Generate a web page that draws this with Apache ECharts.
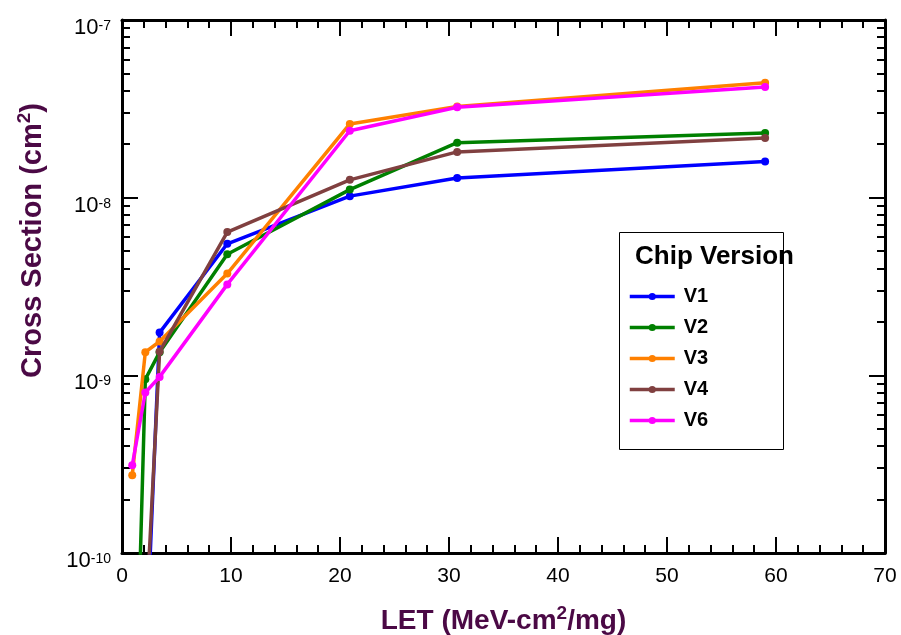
<!DOCTYPE html>
<html>
<head>
<meta charset="utf-8">
<script src="https://cdn.jsdelivr.net/npm/echarts@6/dist/echarts.min.js"></script>
<style>
html,body{margin:0;padding:0;background:#fff;}
#chart{width:901px;height:635px;}
</style>
</head>
<body>
<div id="chart"></div>
<script>
// LET values (MeV-cm2/mg)
const LET = [0.94, 2.14, 3.45, 9.66, 20.9, 30.75, 59.0];
// Cross sections (cm2); points below 1e-10 are off-scale (clipped)
const V1 = [null, 2.2e-11, 1.74e-9, 5.5e-9, 1.02e-8, 1.29e-8, 1.6e-8];
const V2 = [2.3e-12, 9.5e-10, 1.35e-9, 4.8e-9, 1.11e-8, 2.04e-8, 2.31e-8];
const V3 = [2.74e-10, 1.35e-9, 1.55e-9, 3.74e-9, 2.6e-8, 3.26e-8, 4.43e-8];
const V4 = [null, 3.6e-11, 1.36e-9, 6.4e-9, 1.26e-8, 1.81e-8, 2.17e-8];
const V6 = [3.12e-10, 8.0e-10, 0.98e-9, 3.25e-9, 2.38e-8, 3.23e-8, 4.2e-8];
const seriesNames = ['V1', 'V2', 'V3', 'V4', 'V6'];
const seriesValues = [V1, V2, V3, V4, V6];
const colors = ['#0000FF', '#008000', '#FF8000', '#804040', '#FF00FF'];
const xTicks = [0, 10, 20, 30, 40, 50, 60, 70];
const yDecades = [-10, -9, -8, -7];

// minor log tick positions (exponent space)
const minorLog = [];
for (let d = -10; d < -7; d++) {
  for (let k = 2; k <= 9; k++) minorLog.push(d + Math.log10(k));
}

const FONT = 'Liberation Sans, Arial, sans-serif';
const titleColor = '#4B0945';
const axisLine = { show: true, lineStyle: { color: '#000', width: 3 } };

function pairs(vals) {
  return vals.map((v, i) => [LET[i], v]);
}

const chart = echarts.init(document.getElementById('chart'));
const option = {
  backgroundColor: '#fff',
  animation: false,
  grid: { left: 122, right: 16, top: 20, bottom: 82, containLabel: false, outerBoundsMode: 'none' },
  xAxis: [
    {
      type: 'value', min: xTicks[0], max: xTicks[xTicks.length - 1], interval: 10,
      position: 'bottom',
      axisLine: axisLine,
      axisTick: { show: true, inside: true, length: 16, lineStyle: { color: '#000', width: 2 } },
      minorTick: { show: true, splitNumber: 5, length: 8, lineStyle: { color: '#000', width: 2 } },
      splitLine: { show: false },
      axisLabel: { fontSize: 21, color: '#000', margin: 13, fontFamily: FONT },
      name: '{t|LET (MeV-cm}{s|2}{t|/mg)}',
      nameLocation: 'middle',
      nameGap: 51,
      nameTextStyle: {
        rich: {
          t: { fontSize: 28, fontWeight: 'bold', color: titleColor, fontFamily: FONT },
          s: { fontSize: 19, fontWeight: 'bold', color: titleColor, fontFamily: FONT, padding: [0, 0, 16, 0] }
        }
      }
    },
    {
      type: 'value', min: xTicks[0], max: xTicks[xTicks.length - 1], interval: 10,
      position: 'top',
      axisLine: axisLine,
      axisTick: { show: true, inside: true, length: 16, lineStyle: { color: '#000', width: 2 } },
      minorTick: { show: true, splitNumber: 5, length: 8, lineStyle: { color: '#000', width: 2 } },
      splitLine: { show: false },
      axisLabel: { show: false }
    }
  ],
  yAxis: [
    {
      type: 'log', logBase: 10, min: Math.pow(10, yDecades[0]), max: Math.pow(10, yDecades[yDecades.length - 1]),
      position: 'left',
      axisLine: axisLine,
      axisTick: { show: true, inside: true, length: 16, lineStyle: { color: '#000', width: 2 } },
      splitLine: { show: false },
      minorTick: { show: false },
      axisLabel: {
        margin: 11,
        verticalAlign: 'top',
        formatter: function (v) {
          const e = Math.round(Math.log10(v));
          return '{b|10}{s|' + e + '}';
        },
        rich: {
          b: { fontSize: 22, color: '#000', fontFamily: FONT, verticalAlign: 'top', padding: [-3, 0, 0, 0] },
          s: { fontSize: 14, color: '#000', fontFamily: FONT, verticalAlign: 'top', padding: [-1, 0, 0, 0] }
        }
      },
      name: '{t|Cross Section (cm}{s|2}{t|)}',
      nameLocation: 'middle',
      nameGap: 72,
      nameRotate: 90,
      nameTextStyle: {
        padding: [0, 0, 0, 92],
        rich: {
          t: { fontSize: 29, fontWeight: 'bold', color: titleColor, fontFamily: FONT },
          s: { fontSize: 19, fontWeight: 'bold', color: titleColor, fontFamily: FONT, padding: [0, 0, 16, 0] }
        }
      }
    },
    {
      type: 'value', min: yDecades[0], max: yDecades[yDecades.length - 1],
      position: 'left',
      axisLine: { show: false },
      axisTick: { show: true, inside: true, length: 8, customValues: minorLog, lineStyle: { color: '#000', width: 2 } },
      splitLine: { show: false },
      axisLabel: { show: false }
    },
    {
      type: 'value', min: yDecades[0], max: yDecades[yDecades.length - 1], interval: 1,
      position: 'right',
      axisLine: axisLine,
      axisTick: { show: true, inside: true, length: 16, lineStyle: { color: '#000', width: 2 } },
      splitLine: { show: false },
      axisLabel: { show: false }
    },
    {
      type: 'value', min: yDecades[0], max: yDecades[yDecades.length - 1],
      position: 'right',
      axisLine: { show: false },
      axisTick: { show: true, inside: true, length: 8, customValues: minorLog, lineStyle: { color: '#000', width: 2 } },
      splitLine: { show: false },
      axisLabel: { show: false }
    }
  ],
  legend: {
    orient: 'vertical',
    left: 628,
    top: 281,
    padding: 0,
    z: 20,
    itemWidth: 45,
    itemHeight: 9,
    itemGap: 0,
    data: seriesNames,
    lineStyle: { width: 3.5 },
    textStyle: {
      fontSize: 20, fontWeight: 'bold', color: '#000', lineHeight: 31,
      fontFamily: FONT, padding: [0, 0, 0, 4]
    }
  },
  graphic: [
    {
      type: 'rect', left: 619, top: 232, z: 0,
      shape: { width: 164, height: 217 },
      style: { fill: '#fff', stroke: '#000', lineWidth: 1 }
    },
    {
      type: 'text', left: 635, top: 244, z: 60,
      style: { text: 'Chip Version', fontSize: 26, fontWeight: 'bold', fill: '#000', fontFamily: FONT }
    }
  ],
  series: seriesNames.map((n, i) => ({
    name: n,
    type: 'line',
    xAxisIndex: 0,
    yAxisIndex: 0,
    data: pairs(seriesValues[i]),
    clip: true,
    symbol: 'circle',
    symbolSize: 8,
    showSymbol: true,
    lineStyle: { width: 3.5, color: colors[i] },
    itemStyle: { color: colors[i] },
    z: 2 + i
  }))
};
chart.setOption(option);
</script>
</body>
</html>
